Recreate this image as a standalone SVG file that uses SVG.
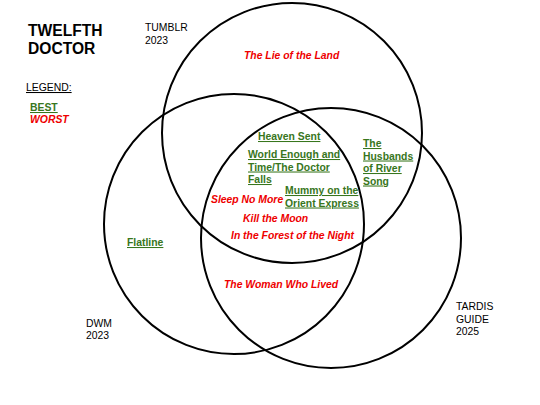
<svg xmlns="http://www.w3.org/2000/svg" width="540" height="405" viewBox="0 0 540 405">
<style>
text{font-family:"Liberation Sans",Arial,sans-serif;}
.c{fill:none;stroke:#000;stroke-width:2;}
.lbl{font-size:10.4px;fill:#000;}
.title{font-size:15.6px;font-weight:bold;fill:#000;}
.best{font-size:10.4px;font-weight:bold;fill:#38761d;text-decoration:underline;}
.worst{font-size:10.4px;font-weight:bold;font-style:italic;fill:#ee0000;}
</style>
<rect width="540" height="405" fill="#fff"/>
<g id="circles">
<circle id="tumblr" class="c" cx="292" cy="133" r="130"/>
<circle id="dwm" class="c" cx="234" cy="224" r="130"/>
<circle id="tardis" class="c" cx="331" cy="238" r="130"/>
</g>
<g id="title"><text class="title" x="28" y="36">TWELFTH</text><text class="title" x="28" y="54">DOCTOR</text></g>
<g id="legend">
<text class="lbl" x="26" y="91" text-decoration="underline">LEGEND:</text>
<text class="best" x="30" y="111">BEST</text>
<text class="worst" x="30" y="123">WORST</text>
</g>
<g id="set-labels">
<text class="lbl" x="145" y="31">TUMBLR</text><text class="lbl" x="145" y="43.5">2023</text>
<text class="lbl" x="86" y="327">DWM</text><text class="lbl" x="86" y="339">2023</text>
<text class="lbl" x="456" y="310">TARDIS</text><text class="lbl" x="456" y="322.5">GUIDE</text><text class="lbl" x="456" y="335">2025</text>
</g>
<g id="episodes">
<text class="worst" x="244" y="59">The Lie of the Land</text>
<text class="best" x="258" y="140">Heaven Sent</text>
<text class="best" x="248" y="158">World Enough and</text>
<text class="best" x="248" y="170.5">Time/The Doctor</text>
<text class="best" x="248" y="183">Falls</text>
<text class="best" x="363" y="147">The</text>
<text class="best" x="363" y="159.5">Husbands</text>
<text class="best" x="363" y="172">of River</text>
<text class="best" x="363" y="184.5">Song</text>
<text class="best" x="285" y="194">Mummy on the</text>
<text class="best" x="285" y="206.5">Orient Express</text>
<text class="worst" x="211" y="203">Sleep No More</text>
<text class="worst" x="243" y="222">Kill the Moon</text>
<text class="worst" x="231" y="239">In the Forest of the Night</text>
<text class="best" x="127" y="246">Flatline</text>
<text class="worst" x="224" y="288">The Woman Who Lived</text>
</g>
</svg>
